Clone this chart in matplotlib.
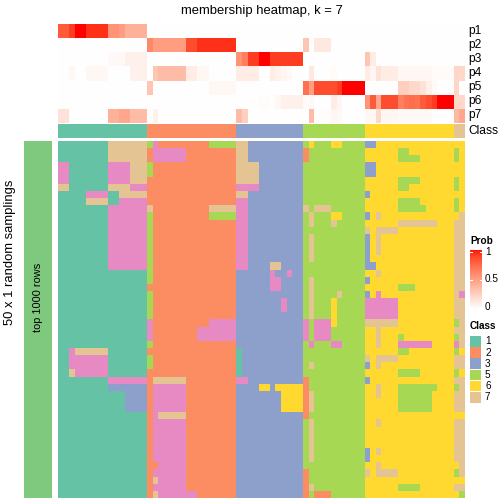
import numpy as np
import matplotlib
matplotlib.use("Agg")
import matplotlib.pyplot as plt
from matplotlib.colors import ListedColormap, BoundaryNorm

plt.rcParams['font.family'] = ['Liberation Sans', 'DejaVu Sans']

# ---- data ----
title = "membership heatmap, k = 7"
class_ids = [1, 2, 3, 5, 6, 7]
class_counts = [16, 16, 12, 11, 16, 2]
class_colors = {1: "#66C2A5", 2: "#FC8D62", 3: "#8DA0CB", 4: "#E78AC3",
                5: "#A6D854", 6: "#FFD92F", 7: "#E5C494"}
n_rows = 50

# membership probabilities, one list per class block of columns
p1 = ([.80, .80, .90, 1.0, 1.0, .93, .93, .93, .93, .55, .55, .50, .40, .40, .40, .40]
      + [0] * 16 + [0] * 12 + [0] * 11 + [0] * 16 + [0, 0])
p2 = ([0] * 16
      + [.60, .50, .50, .50, .50, .50, .50, .85, .85, .93, .93, .93, .93, .93, .93, .93]
      + [0] * 12
      + [.30, 0, .12, .12, .12, 0, 0, 0, 0, 0, 0]
      + [0] * 16 + [0, 0])
p3 = ([0, 0, 0, 0, 0, 0, 0, 0, 0, .03, .03, .03, .08, .08, .08, .08]
      + [0] * 16
      + [.55, .65, .90, .90, 1, 1, .90, .90, .90, .90, .90, .90]
      + [0] * 11
      + [.30, .10] + [0] * 14 + [0, 0])
p4 = ([0, 0, .04, 0, 0, .04, .04, .04, .04, 0, 0, 0, 0, .08, .08, .08]
      + [0, .30, .35, .35, .35, .35, .35, .10, .10, .04, .04, 0, 0, 0, 0, 0]
      + [.10, .10, .10, .10, 0, 0, .10, .07, .05, .03, 0, 0]
      + [0, .12, 0, 0, 0, .02, 0, 0, 0, 0, 0]
      + [.10, .05, .15, .10, .10, .10, .04, .04, .04, .04, .04, .04, .02, .02, .02, .02]
      + [.22, .20])
p5 = ([0] * 16
      + [.30, 0, 0, 0, 0, 0, 0, 0, 0, 0, 0, .04, .04, .04, .04, .04]
      + [0] * 12
      + [.70, .50, .85, .85, .85, .85, .90, 1, 1, 1, 1]
      + [0, 0, 0, 0, 0, 0, .25, .25, .20, .20, .15, .08, .03, 0, 0, 0]
      + [.22, 0])
p6 = ([0] * 16 + [0] * 16
      + [0, 0, 0, 0, .02, .02, 0, .04, .08, .08, .08, .08]
      + [.02, .03, 0, 0, 0, .10, .05, 0, 0, 0, 0]
      + [.55, .80, .45, .85, .85, .85, .65, .70, .72, .70, .80, .85, .90, 1, 1, 1]
      + [.20, .20])
p7 = ([.15, .15, 0, 0, 0, 0, 0, 0, 0, .40, .40, .45, .45, .35, .35, .35]
      + [0, .08] + [0] * 14
      + [.35, .25] + [0] * 10
      + [0, .35, .01, .01, .01, .05, .03, 0, 0, 0, 0]
      + [.04, .04, .20, .05, .05, .05, .03, .03, .03, .03, .03, .03, 0, 0, 0, 0]
      + [.36, .45])
prob_names = ["p1", "p2", "p3", "p4", "p5", "p6", "p7"]

# class calls per sampling: (first row, last row, first col, last col, class)
calls = [
    # block 1
    (0, 2, 9, 15, 7),
    (3, 5, 0, 1, 4), (3, 5, 9, 12, 4), (3, 5, 13, 15, 7),
    (6, 6, 0, 1, 7), (6, 6, 9, 12, 7), (6, 6, 13, 15, 4),
    (7, 7, 5, 8, 4), (7, 7, 11, 15, 7),
    (8, 8, 5, 8, 7), (8, 8, 11, 15, 4),
    (9, 17, 9, 15, 4),
    (29, 29, 2, 2, 4), (29, 29, 3, 8, 7), (30, 31, 2, 8, 4), (32, 32, 2, 2, 7), (32, 32, 3, 8, 4),
    (33, 33, 9, 15, 4), (34, 34, 9, 15, 3), (35, 37, 12, 15, 3),
    # block 2
    (0, 0, 16, 16, 5), (0, 0, 17, 17, 4), (0, 0, 27, 31, 5),
    (1, 2, 17, 22, 4), (3, 4, 16, 16, 5),
    (9, 9, 16, 16, 7), (9, 9, 27, 31, 7), (10, 10, 27, 31, 5),
    (10, 19, 16, 16, 5), (21, 24, 16, 16, 5), (25, 27, 16, 16, 4), (28, 28, 16, 16, 5), (30, 31, 16, 16, 5),
    (25, 25, 27, 31, 4), (26, 27, 25, 31, 4),
    (33, 33, 17, 22, 7), (34, 37, 17, 22, 4), (38, 38, 17, 17, 4), (38, 38, 18, 22, 7), (39, 44, 17, 22, 4),
    (45, 45, 18, 22, 4), (46, 46, 17, 22, 4), (47, 47, 17, 17, 7), (47, 47, 18, 22, 4), (48, 48, 17, 22, 4),
    (49, 49, 17, 17, 7), (49, 49, 18, 24, 4),
    # block 3
    (0, 2, 32, 33, 7), (3, 5, 32, 35, 7), (6, 6, 32, 35, 4), (7, 7, 32, 33, 7), (8, 17, 32, 33, 4),
    (17, 17, 38, 39, 7), (18, 18, 38, 38, 4), (18, 18, 41, 41, 4), (19, 20, 38, 39, 4), (22, 23, 40, 40, 4),
    (29, 32, 32, 32, 1), (33, 33, 32, 33, 4),
    (34, 34, 36, 37, 6), (34, 34, 39, 43, 6), (35, 37, 40, 43, 6),
    # block 5
    (0, 0, 45, 45, 6), (0, 0, 49, 50, 6), (1, 2, 44, 44, 2),
    (9, 9, 44, 44, 7), (9, 9, 46, 48, 7), (10, 10, 45, 45, 7), (10, 10, 49, 50, 6),
    (11, 11, 45, 45, 7), (11, 11, 49, 49, 7),
    (13, 16, 45, 45, 7), (19, 24, 45, 45, 7), (21, 21, 50, 50, 7), (22, 25, 49, 49, 6),
    (25, 27, 44, 44, 4), (25, 27, 46, 48, 4), (28, 28, 45, 45, 4), (28, 28, 49, 50, 4),
    (31, 31, 45, 45, 7), (33, 38, 44, 44, 2), (35, 37, 45, 45, 7), (39, 44, 45, 45, 7),
    (46, 49, 44, 44, 2), (48, 48, 45, 45, 7), (49, 49, 46, 48, 2),
    # block 6
    (0, 0, 55, 56, 3), (3, 4, 55, 56, 3), (7, 7, 55, 55, 3), (10, 10, 55, 55, 3), (12, 12, 55, 55, 7),
    (13, 17, 55, 55, 3), (17, 17, 56, 56, 3), (19, 19, 55, 55, 3), (21, 21, 55, 55, 3),
    (22, 24, 55, 60, 4), (25, 25, 55, 60, 7), (30, 30, 55, 55, 7), (31, 31, 55, 55, 3), (33, 33, 55, 55, 3),
    (43, 44, 55, 55, 3), (46, 46, 55, 55, 7),
    (10, 10, 57, 57, 7), (12, 12, 57, 60, 7), (13, 15, 57, 57, 7), (18, 18, 57, 57, 7), (21, 21, 57, 57, 4),
    (26, 28, 57, 57, 7), (30, 30, 57, 60, 7), (31, 31, 57, 57, 7), (34, 35, 57, 57, 7), (39, 39, 57, 57, 7),
    (43, 43, 57, 57, 7), (45, 45, 57, 57, 7), (46, 46, 57, 60, 7),
    (1, 2, 61, 62, 5), (2, 2, 63, 64, 5), (5, 5, 61, 64, 5), (6, 6, 61, 62, 5), (8, 8, 61, 64, 5), (9, 9, 61, 65, 5),
    (11, 11, 61, 67, 7), (20, 20, 61, 63, 5), (27, 27, 61, 61, 5), (28, 28, 61, 66, 4), (29, 29, 61, 62, 5),
    (32, 32, 61, 64, 5), (34, 34, 61, 67, 5), (35, 37, 61, 66, 5), (48, 48, 61, 64, 5),
    # block 7
    (0, 10, 71, 72, 6), (1, 2, 71, 71, 5), (5, 6, 71, 71, 5), (8, 9, 71, 71, 5), (10, 10, 72, 72, 7),
    (21, 21, 72, 72, 4), (25, 25, 71, 71, 5), (27, 27, 71, 71, 5), (28, 28, 71, 71, 4),
    (29, 29, 71, 71, 5), (29, 29, 72, 72, 6), (32, 32, 71, 71, 5), (32, 32, 72, 72, 6), (34, 34, 71, 71, 5),
    (38, 38, 71, 72, 6), (45, 45, 71, 71, 6), (46, 46, 71, 71, 5), (47, 47, 71, 72, 6),
    (49, 49, 71, 71, 6), (49, 49, 72, 72, 5),
]


# white -> red ramp interpolated in CIELAB
M = np.array([[0.4124564, 0.3575761, 0.1804375],
              [0.2126729, 0.7151522, 0.0721750],
              [0.0193339, 0.1191920, 0.9503041]])
WP = np.array([0.95047, 1.0, 1.08883])


def to_lab(rgb):
    rgb = np.asarray(rgb, float)
    lin = np.where(rgb <= 0.04045, rgb / 12.92, ((rgb + 0.055) / 1.055) ** 2.4)
    xyz = M @ lin / WP
    f = np.where(xyz > 0.008856, np.cbrt(xyz), 7.787 * xyz + 16 / 116)
    return np.array([116 * f[1] - 16, 500 * (f[0] - f[1]), 200 * (f[1] - f[2])])


def from_lab(lab):
    fy = (lab[0] + 16) / 116
    f = np.array([fy + lab[1] / 500, fy, fy - lab[2] / 200])
    xyz = np.where(f ** 3 > 0.008856, f ** 3, (f - 16 / 116) / 7.787) * WP
    lin = np.clip(np.linalg.solve(M, xyz), 0, 1)
    rgb = np.where(lin <= 0.0031308, 12.92 * lin, 1.055 * lin ** (1 / 2.4) - 0.055)
    return np.clip(rgb, 0, 1)


lw, lr = to_lab([1, 1, 1]), to_lab([1, 0, 0])
prob_cmap = ListedColormap([from_lab(lw + (lr - lw) * t) for t in np.linspace(0, 1, 256)])

col_class = np.repeat(class_ids, class_counts)
n_cols = len(col_class)
mat = np.tile(col_class, (n_rows, 1))
for r0, r1, c0, c1, k in calls:
    mat[r0:r1 + 1, c0:c1 + 1] = k

probs = np.array([p1, p2, p3, p4, p5, p6, p7])
cls_cmap = ListedColormap([class_colors[i] for i in range(1, 8)])
cls_norm = BoundaryNorm(np.arange(0.5, 8.5), 7)

# ---- figure ----
W = H = 504
fig = plt.figure(figsize=(7, 7), dpi=72)


def add_ax(x0, y0, x1, y1):
    ax = fig.add_axes([x0 / W, 1 - y1 / H, (x1 - x0) / W, (y1 - y0) / H])
    ax.set_axis_off()
    return ax


def ftext(x, y, s, **kw):
    fig.text(x / W, 1 - y / H, s, **kw)


hm_x0, hm_x1 = 58, 465

ax = add_ax(hm_x0, 24, hm_x1, 123)
ax.imshow(probs, cmap=prob_cmap, vmin=0, vmax=1, aspect='auto', interpolation='nearest')
for i, name in enumerate(prob_names):
    ftext(468, 24 + 14 * (i + 0.5), name, fontsize=12, va='center', ha='left')

ax = add_ax(hm_x0, 124, hm_x1, 138)
ax.imshow(col_class[None, :], cmap=cls_cmap, norm=cls_norm, aspect='auto', interpolation='nearest')
ftext(468, 131, "Class", fontsize=12, va='center', ha='left')

ax = add_ax(hm_x0, 141, hm_x1, 498)
ax.imshow(mat, cmap=cls_cmap, norm=cls_norm, aspect='auto', interpolation='nearest')

ax = add_ax(24, 141, 52, 498)
ax.set_axis_on()
ax.set_facecolor("#7FC97F")
ax.set_xticks([])
ax.set_yticks([])
for s in ax.spines.values():
    s.set_visible(False)
ftext(38, 297, "top 1000 rows", fontsize=11, rotation=90, ha='center', va='center')
ftext(10, 252, "50 x 1 random samplings", fontsize=13, rotation=90, ha='center', va='center')

ftext((hm_x0 + hm_x1) / 2, 11, title, fontsize=13, ha='center', va='center')

# Prob legend
ftext(470, 241, "Prob", fontsize=10, fontweight='bold', ha='left', va='center')
ax = add_ax(470, 250, 482, 309)
ax.imshow(np.linspace(1, 0, 100)[:, None], cmap=prob_cmap, vmin=0, vmax=1,
          aspect='auto', extent=[0, 1, -0.03, 1.03])
ax.set_xlim(0, 1)
ax.set_ylim(-0.03, 1.03)
for v, lab in [(1, "1"), (0.5, "0.5"), (0, "0")]:
    ax.plot([0, 0.2], [v, v], color='white', lw=1)
    ax.plot([0.8, 1], [v, v], color='white', lw=1)
    ftext(485, 309 - 2 - v * 55, lab, fontsize=10, ha='left', va='center')

# Class legend
ftext(470, 326, "Class", fontsize=10, fontweight='bold', ha='left', va='center')
for i, k in enumerate(class_ids):
    y0 = 336 + 11.2 * i
    a = add_ax(470, y0, 481, y0 + 10.5)
    a.set_axis_on()
    a.set_facecolor(class_colors[k])
    a.set_xticks([])
    a.set_yticks([])
    for s in a.spines.values():
        s.set_visible(False)
    ftext(485, y0 + 5.5, str(k), fontsize=10, ha='left', va='center')

fig.savefig("out.png", dpi=72)
